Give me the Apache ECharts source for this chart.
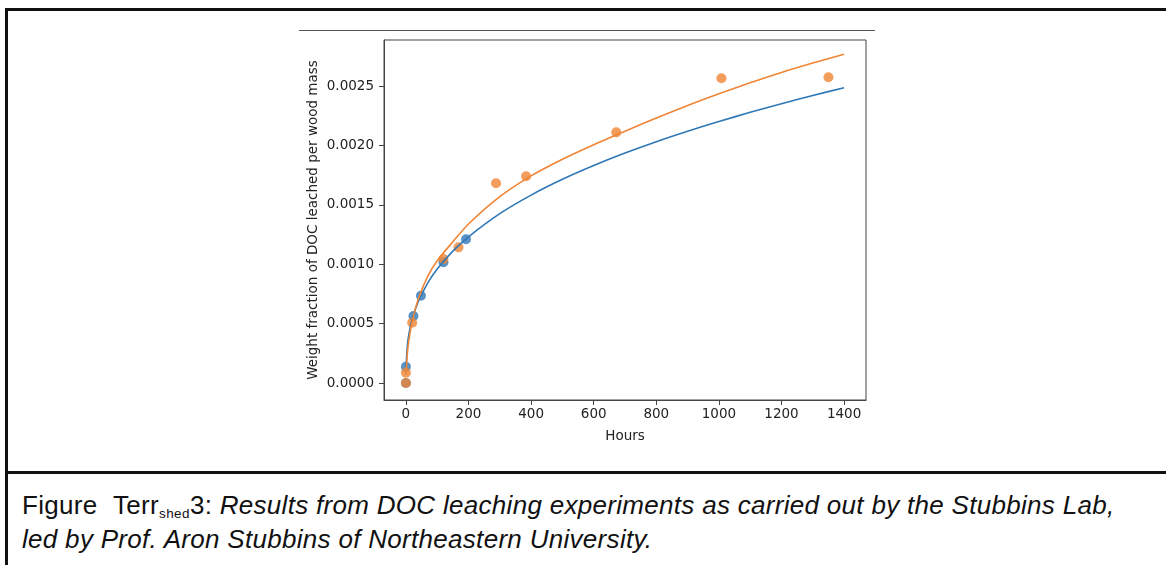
<!DOCTYPE html>
<html>
<head>
<meta charset="utf-8">
<script src="https://cdn.jsdelivr.net/npm/echarts@6/dist/echarts.min.js"></script>
<style>
  html, body { margin: 0; padding: 0; background: #fff; }
  body { width: 1166px; height: 565px; position: relative; overflow: hidden; }
  #main { position: absolute; left: 0; top: 0; width: 1166px; height: 470px; }
  .rule { position: absolute; background: #111; }
  .caption {
    position: absolute; left: 22px; top: 488px; width: 1140px; white-space: nowrap;
    font-family: "Liberation Sans", Arial, sans-serif; font-size: 26px; line-height: 34px;
    letter-spacing: 0.3px; color: #111;
  }
  .caption sub { font-size: 13.5px; vertical-align: -3.5px; line-height: 0; letter-spacing: 0.4px; }
</style>
</head>
<body>
<div id="main"></div>
<!-- rahmen wie in der vorlage -->
<div class="rule" style="left:5px;top:8px;width:1161px;height:3px"></div>
<div class="rule" style="left:5px;top:8px;width:3px;height:557px"></div>
<div class="rule" style="left:5px;top:471px;width:1161px;height:3px"></div>
<div class="rule" style="left:299px;top:30px;width:576px;height:1px;background:#555"></div>
<div class="caption">Figure&nbsp;<span style="margin-left:8px">Terr</span><sub>shed</sub>3: <i>Results from DOC leaching experiments as carried out by the Stubbins Lab,<br>led by Prof. Aron Stubbins of Northeastern University.</i></div>
<script>
// messpunkte (Stunden / Gewichtsanteil)
var blueHours = [0, 0, 24, 48, 120, 192];
var blueFrac = [0, 0.000137, 0.000564, 0.000735, 0.001018, 0.001212];
var orangeHours = [0, 0, 20, 120, 168, 288, 384, 672, 1008, 1350];
var orangeFrac = [0, 0.000087, 0.000508, 0.001044, 0.001143, 0.001683, 0.001742, 0.002112, 0.002567, 0.002576];

// fit-kurven
var fitHours = [0.5, 5, 10, 20, 40, 70, 100, 150, 200, 300, 400, 500, 600, 700, 800, 900, 1000, 1100, 1200, 1300, 1400];
var blueFit = [0.000142, 0.000325, 0.000418, 0.000537, 0.000689, 0.000844, 0.00096, 0.001111, 0.001232, 0.001427, 0.001583,
  0.001716, 0.001832, 0.001937, 0.002033, 0.002121, 0.002203, 0.002281, 0.002353, 0.002423, 0.002488];
var orangeFit = [0.00007, 0.00026, 0.00037, 0.00052, 0.00071, 0.0009, 0.00103, 0.00119, 0.00134, 0.00157, 0.001745,
  0.001885, 0.002008, 0.002122, 0.002233, 0.002338, 0.002437, 0.00253, 0.002617, 0.002696, 0.00277];

var xTicks = [0, 200, 400, 600, 800, 1000, 1200, 1400];
var yTicks = [0, 0.0005, 0.001, 0.0015, 0.002, 0.0025];

var BLUE = '#2f78b6';
var ORANGE = '#f08535';

function pairs(xs, ys) {
  var out = [];
  for (var i = 0; i < xs.length; i++) out.push([xs[i], ys[i]]);
  return out;
}

var chart = echarts.init(document.getElementById('main'));
var txt = { color: '#222', fontFamily: 'DejaVu Sans', fontSize: 13.5 };

chart.setOption({
  animation: false,
  grid: { left: 384, top: 40, width: 482, height: 360, show: true, borderColor: '#444', borderWidth: 1 },
  xAxis: {
    type: 'value', min: -70, max: 1470,
    name: 'Hours', nameLocation: 'middle', nameGap: 29, nameTextStyle: txt,
    axisLine: { show: true, onZero: false, lineStyle: { color: '#444' } },
    axisTick: { show: true, length: 5, customValues: xTicks, lineStyle: { color: '#444' } },
    axisLabel: Object.assign({
      customValues: xTicks, margin: 7,
      formatter: function (v) { return String(v); }
    }, txt),
    splitLine: { show: false }
  },
  yAxis: {
    type: 'value', min: -0.000143, max: 0.00289,
    name: 'Weight fraction of DOC leached per wood mass', nameLocation: 'middle', nameGap: 64, nameTextStyle: txt,
    axisLine: { show: true, onZero: false, lineStyle: { color: '#444' } },
    axisTick: { show: true, length: 5, customValues: yTicks, lineStyle: { color: '#444' } },
    axisLabel: Object.assign({
      customValues: yTicks, margin: 10,
      formatter: function (v) { return v.toFixed(4); }
    }, txt),
    splitLine: { show: false }
  },
  series: [
    { type: 'scatter', data: pairs(blueHours, blueFrac), symbolSize: 10, itemStyle: { color: BLUE }, z: 2 },
    { type: 'scatter', data: pairs(orangeHours, orangeFrac), symbolSize: 10, itemStyle: { color: ORANGE }, z: 2 },
    { type: 'line', data: pairs(fitHours, blueFit), showSymbol: false, smooth: 0.25,
      lineStyle: { color: BLUE, width: 1.6 }, z: 3 },
    { type: 'line', data: pairs(fitHours, orangeFit), showSymbol: false, smooth: 0.25,
      lineStyle: { color: ORANGE, width: 1.6 }, z: 3 }
  ]
});
</script>
</body>
</html>
